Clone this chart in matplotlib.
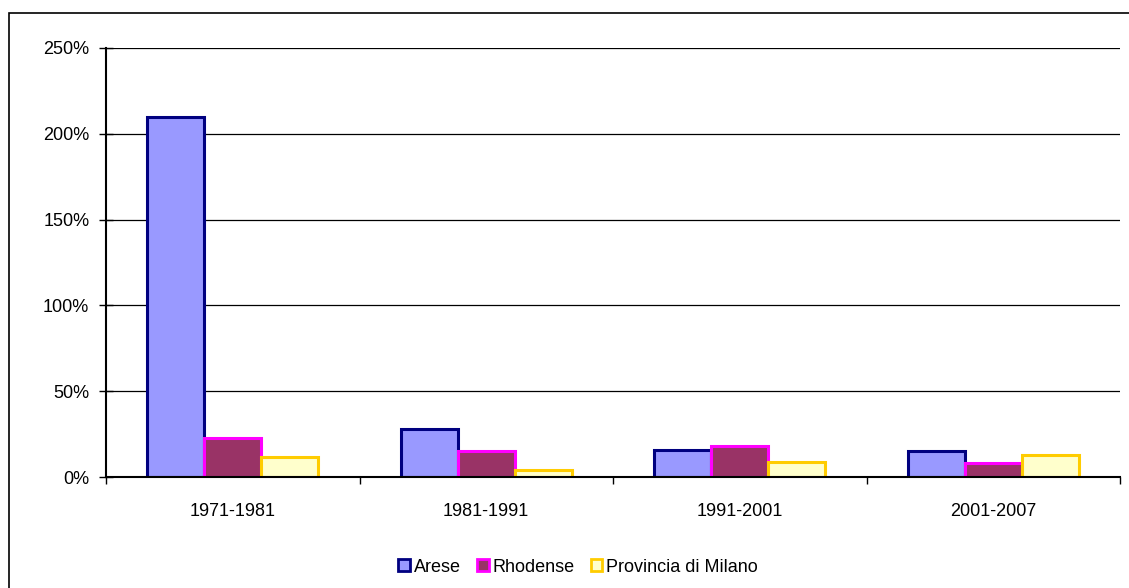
import numpy as np
import matplotlib.pyplot as plt
from matplotlib.patches import Patch, Rectangle
from matplotlib.ticker import FuncFormatter, MultipleLocator

plt.rcParams['font.family'] = ['Liberation Sans', 'DejaVu Sans']

# Population change by decade (%)
PERIODS = ['1971-1981', '1981-1991', '1991-2001', '2001-2007']
SERIES = ['Arese', 'Rhodense', 'Provincia di Milano']
arese = [209.5, 28.0, 15.5, 15.0]
rhodense = [22.5, 15.4, 18.0, 8.0]
provincia = [11.5, 4.2, 9.0, 13.0]

FILLS = ['#9999FF', '#993366', '#FFFFCC']
EDGES = ['#000080', '#FF00FF', '#FFCC00']
BAR_W = 0.225

fig = plt.figure(figsize=(11.29, 5.88), dpi=100)
ax = fig.add_axes([106 / 1129, 1 - 477 / 588, (1120 - 106) / 1129, (477 - 48) / 588])

x = np.arange(len(PERIODS))
for i, vals in enumerate([arese, rhodense, provincia]):
    ax.bar(x + (i - 1) * BAR_W, vals, width=BAR_W, color=FILLS[i],
           edgecolor=EDGES[i], linewidth=2.2, zorder=3)

ax.set_xlim(-0.5, len(PERIODS) - 0.5)
ax.set_ylim(0, 250)
ax.yaxis.set_major_locator(MultipleLocator(50))
ax.yaxis.set_major_formatter(FuncFormatter(lambda v, _: f'{v:.0f}%'))
ax.grid(axis='y', color='black', linewidth=0.9, zorder=0)

# category labels centred, ticks on the boundaries between groups
ax.set_xticks(x)
ax.set_xticklabels(PERIODS)
ax.tick_params(axis='x', which='major', length=0, pad=19, labelsize=13)
ax.set_xticks(np.arange(len(PERIODS) + 1) - 0.5, minor=True)
ax.tick_params(axis='x', which='minor', length=5, width=1, direction='out')
ax.tick_params(axis='y', length=10, width=1, direction='inout', labelsize=13, pad=7)

for side in ['top', 'right']:
    ax.spines[side].set_visible(False)
ax.spines['left'].set_linewidth(1.5)
ax.spines['bottom'].set_linewidth(1.5)
ax.spines['bottom'].set_zorder(4)

handles = [Patch(facecolor=f, edgecolor=e, linewidth=2) for f, e in zip(FILLS, EDGES)]
fig.legend(handles, SERIES, loc='center', bbox_to_anchor=(578 / 1129, 1 - 567 / 588),
           ncol=3, frameon=False, fontsize=13, handlelength=0.65, handleheight=0.65,
           handletextpad=0.2, columnspacing=0.9)

# chart area border, running off the right and bottom edges
fig.patches.append(Rectangle((8.5 / 1129, -0.1), 1.2, 1.1 - 13 / 588, transform=fig.transFigure,
                             fill=False, edgecolor='black', linewidth=1.2, clip_on=False))

fig.savefig('out.png', dpi=100)
